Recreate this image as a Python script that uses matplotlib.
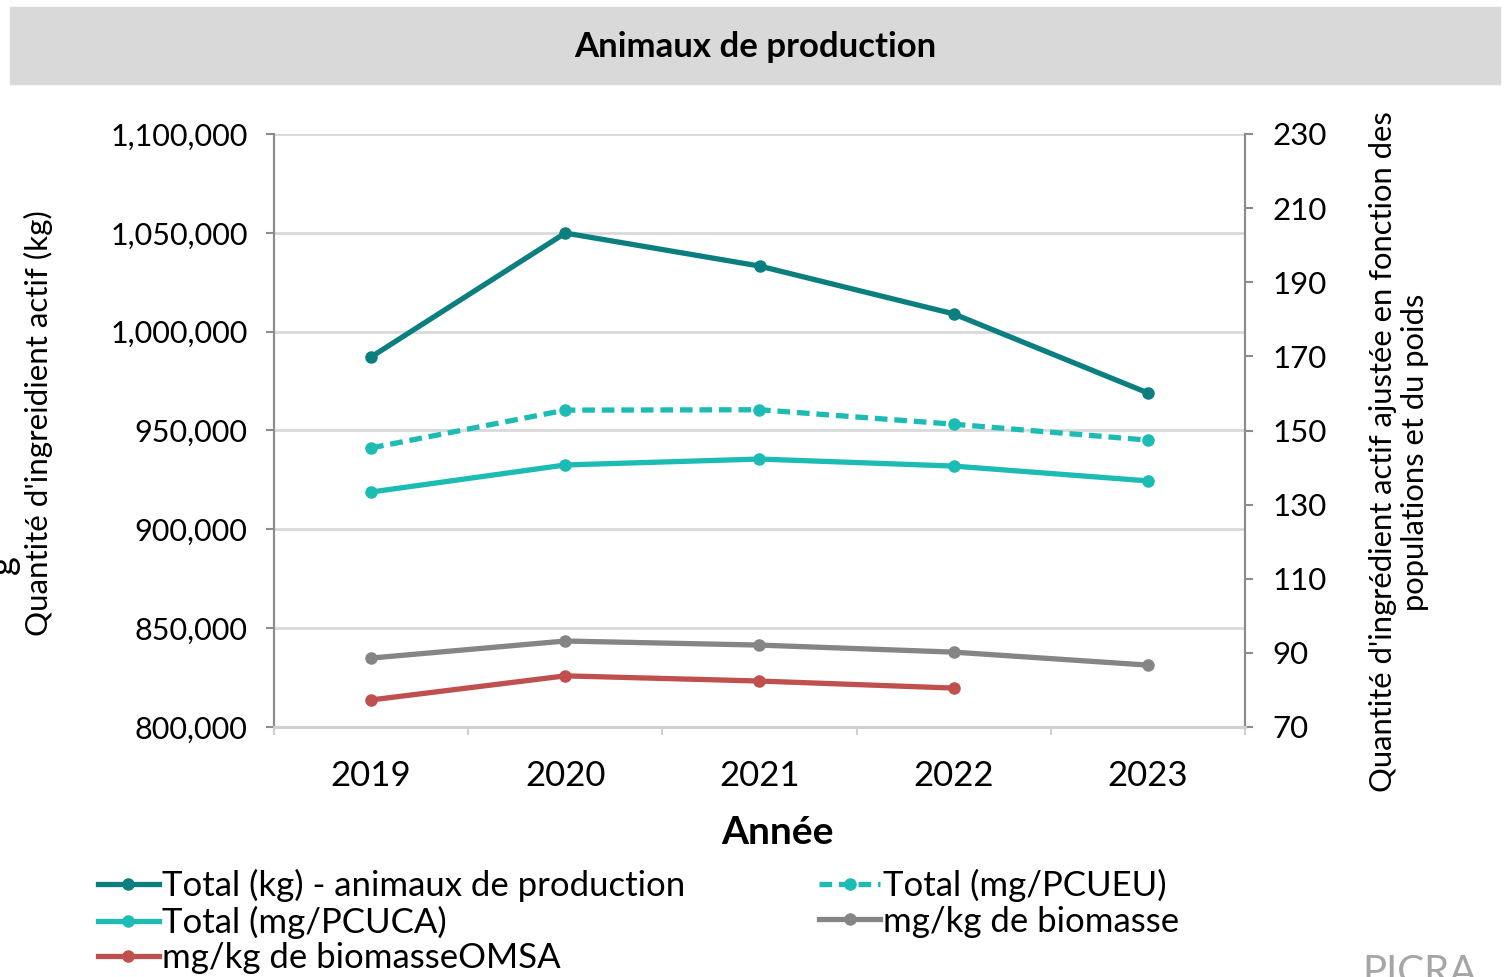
import numpy as np
import matplotlib
matplotlib.use("Agg")
import matplotlib.pyplot as plt
from matplotlib.patches import Rectangle
from matplotlib.ticker import FuncFormatter, FixedLocator

plt.rcParams['font.family'] = ['Lato', 'DejaVu Sans']

# data
years = ['2019', '2020', '2021', '2022', '2023']
total_kg = [987200, 1049900, 1033200, 1009000, 969000]
total_pcueu = [145.3, 155.5, 155.6, 151.7, 147.4]
total_pcuca = [133.4, 140.7, 142.3, 140.4, 136.4]
biomasse = [88.6, 93.2, 92.1, 90.2, 86.7]
biomasse_omsa = [77.3, 83.8, 82.4, 80.5]

c_dark = '#0b7f7f'
c_turq = '#1cbcb4'
c_gray = '#858585'
c_red = '#c0504d'

fig = plt.figure(figsize=(15.04, 9.77), dpi=100)

# grey title band
fig.patches.append(Rectangle((10 / 1504, 1 - 84 / 977), 1490 / 1504, 77 / 977,
                             transform=fig.transFigure, color='#d9d9d9', zorder=0))
fig.text(755 / 1504, 1 - 47 / 977, 'Animaux de production', ha='center', va='center',
         fontsize=25, fontweight='bold')

ax = fig.add_axes([274 / 1504, 1 - 727 / 977, 971 / 1504, 593 / 977])
ax2 = ax.twinx()

x = np.arange(len(years))
lw, ms = 3.8, 8
h1, = ax.plot(x, total_kg, color=c_dark, lw=lw, marker='o', ms=ms, zorder=5,
              label='Total (kg) - animaux de production')
h2, = ax2.plot(x, total_pcueu, color=c_turq, lw=lw, ls=(0, (2.4, 1.3)), marker='o', ms=ms,
               label='Total (mg/PCUEU)')
h3, = ax2.plot(x, total_pcuca, color=c_turq, lw=lw, marker='o', ms=ms, label='Total (mg/PCUCA)')
h4, = ax2.plot(x, biomasse, color=c_gray, lw=lw, marker='o', ms=ms, label='mg/kg de biomasse')
h5, = ax2.plot(x[:len(biomasse_omsa)], biomasse_omsa, color=c_red, lw=lw, marker='o', ms=ms,
               label='mg/kg de biomasseOMSA')

ax.set_xlim(-0.5, len(years) - 0.5)
ax.set_ylim(800000, 1100000)
ax.set_yticks(np.arange(800000, 1100001, 50000))
ax.yaxis.set_major_formatter(FuncFormatter(lambda v, p: f'{int(v):,}'))
ax2.set_ylim(70, 230)
ax2.set_yticks(np.arange(70, 231, 20))

ax.set_xticks(x)
ax.set_xticklabels(years)
ax.xaxis.set_minor_locator(FixedLocator(np.arange(-0.5, len(years), 1.0)))
ax.tick_params(axis='x', which='major', length=0, pad=24, labelsize=25)
ax.tick_params(axis='x', which='minor', length=6, width=1.5, color='#d0d0d0')

ax.grid(axis='y', color='#d9d9d9', lw=2)
ax.set_axisbelow(True)
ax.tick_params(axis='y', length=6, width=1.5, color='#8c8c8c', pad=13, labelsize=22)
ax2.tick_params(axis='y', length=6, width=1.5, color='#8c8c8c', pad=14, labelsize=22.5)

for a in (ax, ax2):
    a.spines['top'].set_visible(False)
    a.spines['left'].set_color('#8c8c8c')
    a.spines['right'].set_color('#8c8c8c')
    a.spines['left'].set_linewidth(1.5)
    a.spines['right'].set_linewidth(1.5)
    a.spines['bottom'].set_color('#d0d0d0')
    a.spines['bottom'].set_linewidth(2)

fig.text(38 / 1504, 1 - 423 / 977, "Quantité d'ingreidient actif (kg)", rotation=90,
         ha='center', va='center', fontsize=22.5)
fig.text(3 / 1504, 1 - 565 / 977, 'g', rotation=90, ha='center', va='center',
         fontsize=26)
fig.text(1399 / 1504, 1 - 452 / 977,
         "Quantité d'ingrédient actif ajustée en fonction des\npopulations et du poids",
         rotation=90, ha='center', va='center', fontsize=22.3, multialignment='center',
         linespacing=1.2)
fig.text(777 / 1504, 1 - 833 / 977, 'Année', ha='center', va='center',
         fontsize=28, fontweight='bold')

fig.legend(handles=[h1, h3, h5, h2, h4], ncol=2, loc='upper left',
           bbox_to_anchor=(98 / 1504, 1 - 869 / 977), frameon=False, fontsize=25,
           handlelength=1.75, handletextpad=0.1, labelspacing=0.1, columnspacing=3.85,
           borderaxespad=0, borderpad=0)

fig.text(1420 / 1504, 1 - 972 / 977, 'PICRA', ha='center', va='center',
         fontsize=29, color='#a6a6a6')

fig.savefig('out.png', dpi=100)
